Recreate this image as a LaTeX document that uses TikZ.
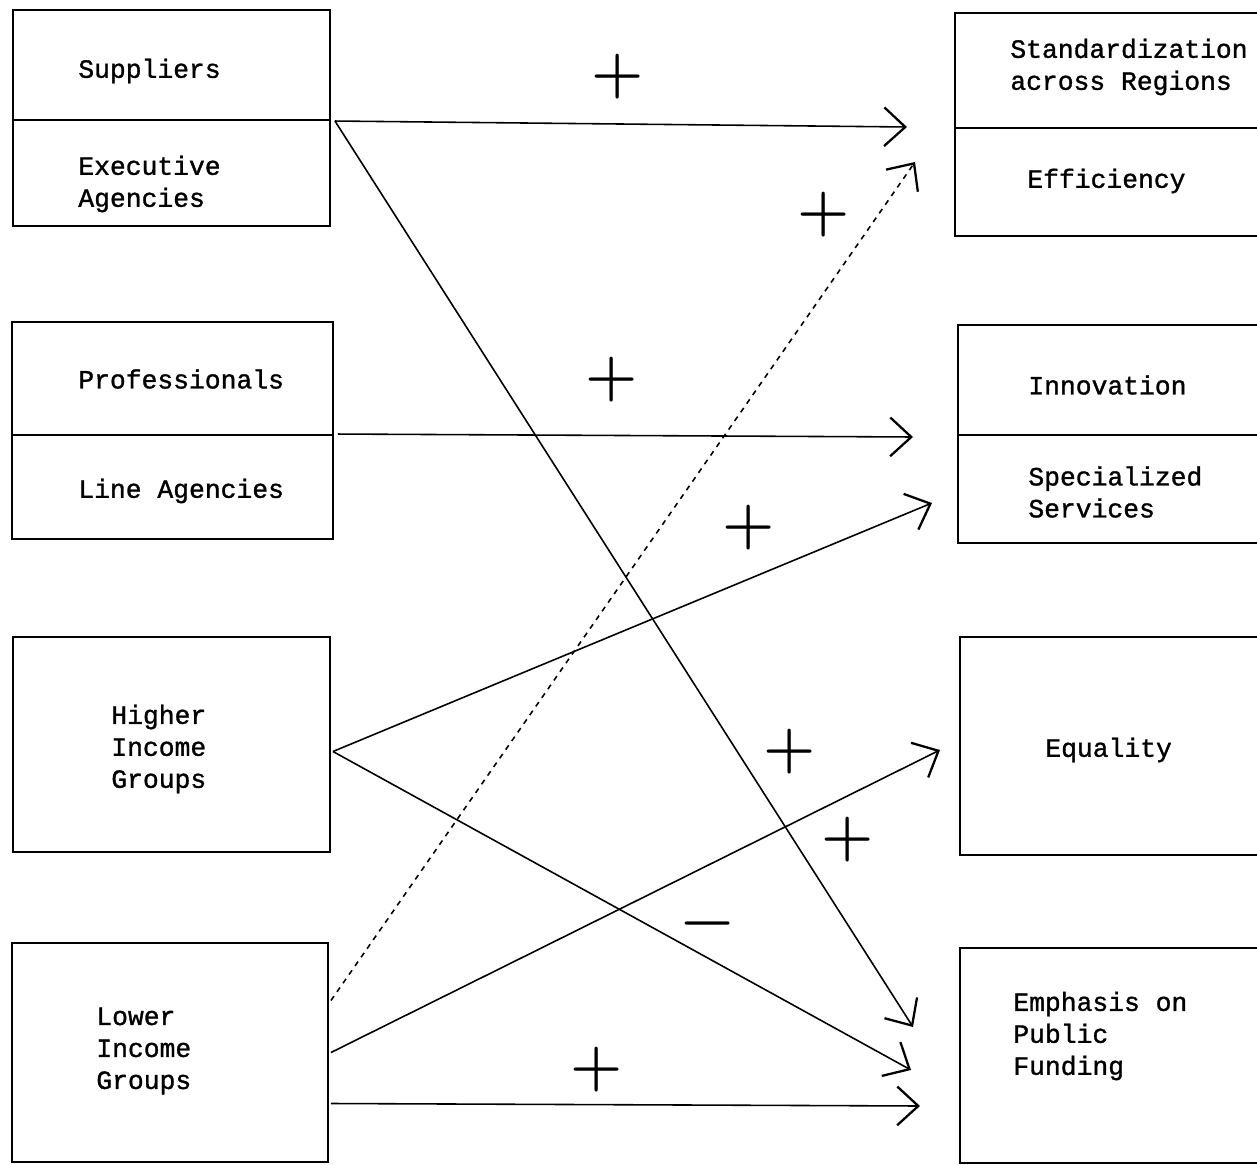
\documentclass[tikz,border=0pt]{standalone}
\usepackage{fontspec}
\newfontfamily\tw[FakeBold=1.2]{Liberation Mono}
\usetikzlibrary{arrows.meta,fit,calc}
\begin{document}
\begin{tikzpicture}[x=0.02cm,y=-0.02cm,
  box/.style={draw, line width=1.1pt, inner sep=0pt},
  lbl/.style={font=\tw\fontsize{15}{18.2}\selectfont, inner sep=0pt, anchor=west, align=left},
  sign/.style={font=\bfseries\fontsize{34}{34}\selectfont, inner sep=0pt},
  conn/.style={line width=0.9pt, -{Straight Barb[length=12pt,width=22pt,line width=1.3pt]}}]
\clip (0,0) rectangle (1257,1165);
% left boxes
\node[box, fit={(13,10) (330,120)}] (supp) {};
\node[box, fit={(13,120) (330,226)}] (exec) {};
\node[box, fit={(12,322) (333,435)}] (prof) {};
\node[box, fit={(12,435) (333,539)}] (line) {};
\node[box, fit={(13,637) (330,852)}] (high) {};
\node[box, fit={(12,943) (328,1162)}] (low) {};
% right boxes
\node[box, fit={(955,13) (1262,128)}] (std) {};
\node[box, fit={(955,128) (1262,236)}] (eff) {};
\node[box, fit={(958,325) (1262,435)}] (inn) {};
\node[box, fit={(958,435) (1262,543)}] (spec) {};
\node[box, fit={(960,637) (1262,855)}] (eq) {};
\node[box, fit={(960,948) (1262,1163)}] (emph) {};
% texts
\node[lbl] (tsupp) at (78,71) {Suppliers};
\node[lbl] (texec) at (78,184) {Executive\\Agencies};
\node[lbl] (tprof) at (78,379) {Professionals};
\node[lbl] (tline) at (78,491) {Line Agencies};
\node[lbl] (thigh) at (111,749) {Higher\\Income\\Groups};
\node[lbl] (tlow) at (96,1051) {Lower\\Income\\Groups};
\node[lbl] (tstd) at (1010,67) {Standardization\\across Regions};
\node[lbl] (teff) at (1027,181) {Efficiency};
\node[lbl] (tinn) at (1028,385) {Innovation};
\node[lbl] (tspec) at (1028,492) {Specialized\\Services};
\node[lbl] (teq) at (1045,750) {Equality};
\node[lbl] (temph) at (1013,1036) {Emphasis on\\Public\\Funding};
% arrow tips
\coordinate (tA) at (907,127);
\coordinate (tB) at (913,1027);
\coordinate (tC) at (932,503);
\coordinate (tD) at (911,1070);
\coordinate (tE) at (915,162);
\coordinate (tF) at (940,750);
\coordinate (tG) at (920,1106);
\coordinate (tH) at (913,437);
% connectors
\draw[conn] ($(exec.north east)+(4,2)$) -- (tA);
\draw[conn] ($(exec.north east)+(4,2)$) -- (tB);
\draw[conn] ($(line.north east)+(4,0)$) -- (tH);
\draw[conn] ($(high.east)+(2,7)$) -- (tC);
\draw[conn] ($(high.east)+(2,7)$) -- (tD);
\draw[conn,dashed] ($(low.east)+(2,-52)$) -- (tE);
\draw[conn] ($(low.east)+(2,0)$) -- (tF);
\draw[conn] ($(low.east)+(2,51)$) -- (tG);
% signs
\node[sign] (p1) at (618,77) {+};
\node[sign] (p2) at (824,215) {+};
\node[sign] (p3) at (612,380) {+};
\node[sign] (p4) at (749,528) {+};
\node[sign] (p5) at (790,752) {+};
\node[sign] (p6) at (848,840) {+};
\node[sign] (p7) at (597,1070) {+};
\node[sign] (m1) at (708,930) {−};
\end{tikzpicture}
\end{document}
